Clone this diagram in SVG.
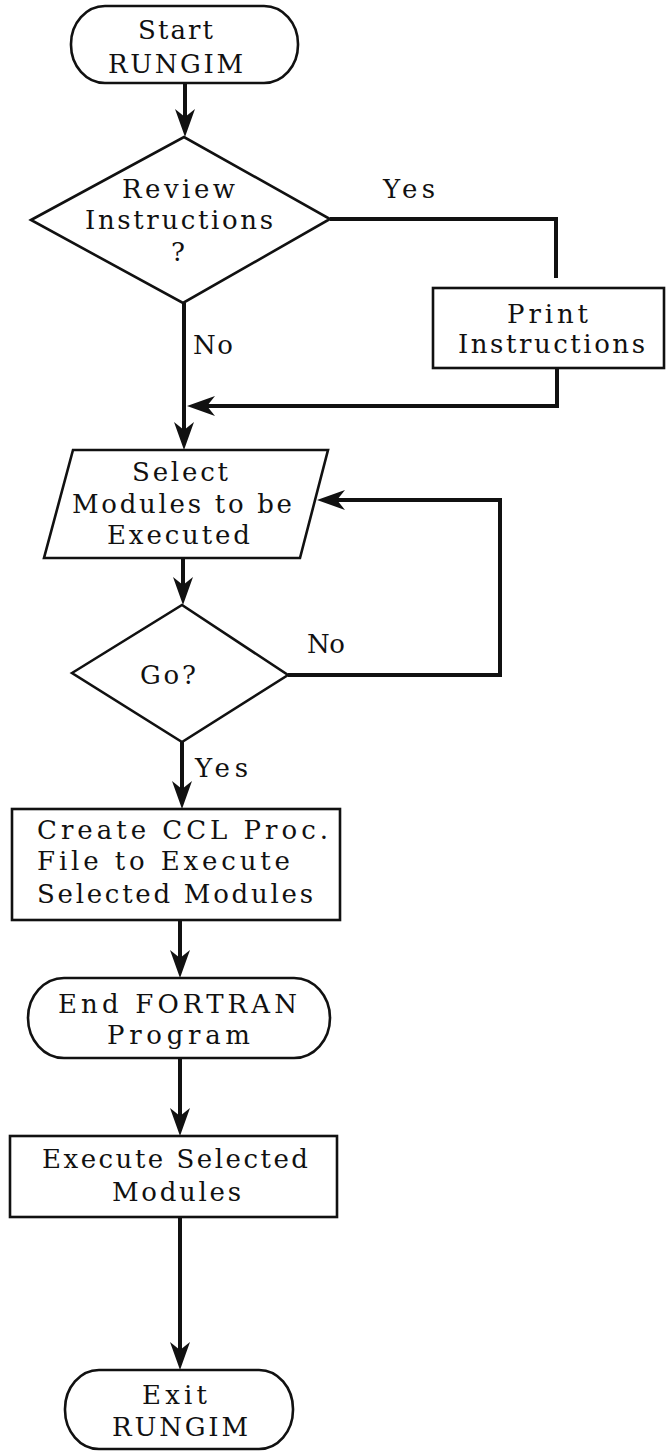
<svg xmlns="http://www.w3.org/2000/svg" width="666" height="1451" viewBox="0 0 666 1451">
  <style>
    .shape { fill: #ffffff; stroke: #111111; stroke-width: 2.6; stroke-linejoin: miter; }
    .wire { fill: none; stroke: #111111; stroke-width: 4; stroke-linejoin: miter; stroke-linecap: butt; }
    .lbl { font-family: "DejaVu Serif", "Liberation Serif", serif; font-size: 26px; fill: #111111; }
  </style>
  <defs>
    <!-- barbed flowchart arrowhead; line ends 10px short of the tip -->
    <marker id="arrow" markerUnits="userSpaceOnUse" markerWidth="32" markerHeight="24" viewBox="0 -12 32 24" refX="18" refY="0" orient="auto">
      <path d="M28,0 L0,-10 L8,0 L0,10 Z" fill="#111111"/>
    </marker>
  </defs>
  <rect width="666" height="1451" fill="#ffffff"/>

  <g id="connectors">
    <!-- Start -> Review -->
    <path class="wire" d="M185,83 L185,127" marker-end="url(#arrow)"/>
    <!-- Review: Yes branch to Print -->
    <path class="wire" d="M330,219 L556,219 L556,278"/>
    <!-- Review: No branch down to Select -->
    <path class="wire" d="M184,303 L184,440" marker-end="url(#arrow)"/>
    <!-- Print -> rejoin the main line -->
    <path class="wire" d="M557,368 L557,406 L197,406" marker-end="url(#arrow)"/>
    <!-- Select -> Go -->
    <path class="wire" d="M183,558 L183,595" marker-end="url(#arrow)"/>
    <!-- Go: No loop back to Select -->
    <path class="wire" d="M288,675 L500,675 L500,500 L327,500" marker-end="url(#arrow)"/>
    <!-- Go: Yes -> Create -->
    <path class="wire" d="M182,742 L182,799" marker-end="url(#arrow)"/>
    <!-- Create -> End FORTRAN -->
    <path class="wire" d="M180,920 L180,968" marker-end="url(#arrow)"/>
    <!-- End FORTRAN -> Execute -->
    <path class="wire" d="M180,1058 L180,1126" marker-end="url(#arrow)"/>
    <!-- Execute -> Exit -->
    <path class="wire" d="M180,1217 L180,1360" marker-end="url(#arrow)"/>

    <text class="lbl" x="383" y="198" textLength="52" lengthAdjust="spacing">Yes</text>
    <text class="lbl" x="193" y="354" textLength="40" lengthAdjust="spacing">No</text>
    <text class="lbl" x="307" y="653" textLength="38" lengthAdjust="spacing">No</text>
    <text class="lbl" x="195" y="777" textLength="53" lengthAdjust="spacing">Yes</text>
  </g>

  <g id="start">
    <rect class="shape" x="71" y="6" width="227" height="77" rx="34" ry="38"/>
    <text class="lbl" x="138" y="39" textLength="75" lengthAdjust="spacing">Start</text>
    <text class="lbl" x="108" y="73" textLength="135" lengthAdjust="spacing">RUNGIM</text>
  </g>

  <g id="review">
    <polygon class="shape" points="31,220 184,137 330,219 183,303"/>
    <text class="lbl" x="122" y="198" textLength="113" lengthAdjust="spacing">Review</text>
    <text class="lbl" x="85" y="229" textLength="188" lengthAdjust="spacing">Instructions</text>
    <text class="lbl" x="171" y="261">?</text>
  </g>

  <g id="print">
    <rect class="shape" x="433" y="288" width="231" height="80"/>
    <text class="lbl" x="507" y="323" textLength="81" lengthAdjust="spacing">Print</text>
    <text class="lbl" x="458" y="353" textLength="187" lengthAdjust="spacing">Instructions</text>
  </g>

  <g id="select">
    <polygon class="shape" points="73,450 328,450 300,558 44,558"/>
    <text class="lbl" x="132" y="481" textLength="96" lengthAdjust="spacing">Select</text>
    <text class="lbl" x="72" y="513" textLength="220" lengthAdjust="spacing">Modules to be</text>
    <text class="lbl" x="107" y="544" textLength="143" lengthAdjust="spacing">Executed</text>
  </g>

  <g id="go">
    <polygon class="shape" points="72,673 182,605 288,675 182,742"/>
    <text class="lbl" x="140" y="684" textLength="56" lengthAdjust="spacing">Go?</text>
  </g>

  <g id="create">
    <rect class="shape" x="12" y="809" width="328" height="111"/>
    <text class="lbl" x="37" y="839" textLength="291" lengthAdjust="spacing">Create CCL Proc.</text>
    <text class="lbl" x="37" y="870" textLength="253" lengthAdjust="spacing">File to Execute</text>
    <text class="lbl" x="37" y="903" textLength="276" lengthAdjust="spacing">Selected Modules</text>
  </g>

  <g id="end-fortran">
    <rect class="shape" x="28" y="978" width="302" height="80" rx="36" ry="40"/>
    <text class="lbl" x="58" y="1013" textLength="239" lengthAdjust="spacing">End FORTRAN</text>
    <text class="lbl" x="107" y="1044" textLength="143" lengthAdjust="spacing">Program</text>
  </g>

  <g id="execute">
    <rect class="shape" x="10" y="1136" width="327" height="81"/>
    <text class="lbl" x="42" y="1168" textLength="266" lengthAdjust="spacing">Execute Selected</text>
    <text class="lbl" x="112" y="1201" textLength="129" lengthAdjust="spacing">Modules</text>
  </g>

  <g id="exit">
    <rect class="shape" x="65" y="1370" width="228" height="79" rx="34" ry="39"/>
    <text class="lbl" x="142" y="1404" textLength="65" lengthAdjust="spacing">Exit</text>
    <text class="lbl" x="112" y="1436" textLength="136" lengthAdjust="spacing">RUNGIM</text>
  </g>
</svg>
